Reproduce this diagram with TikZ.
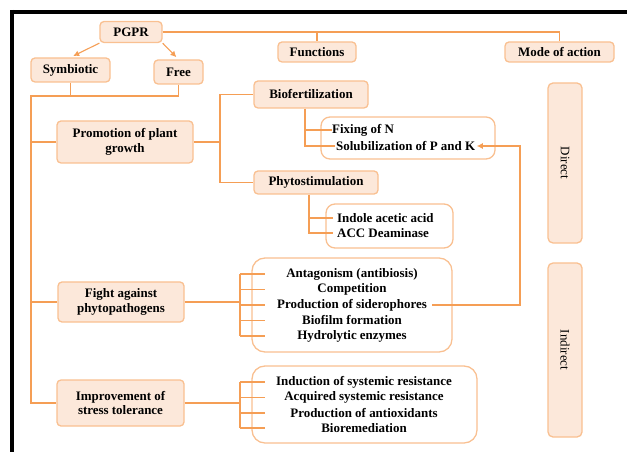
\documentclass[tikz,border=0pt]{standalone}
\usepackage{fontspec}
\setmainfont{Liberation Serif}
\usetikzlibrary{arrows.meta,calc}
\definecolor{lineor}{RGB}{245,158,85}
\definecolor{boxline}{RGB}{249,192,145}
\definecolor{boxfill}{RGB}{252,232,218}
\begin{document}
\begin{tikzpicture}[x=1bp,y=-1bp,
  every node/.style={font=\fontsize{13}{15}\selectfont\bfseries, inner sep=0pt},
  box/.style={draw=boxline, fill=boxfill, line width=1.3pt, rounded corners=4pt, align=center},
  listbox/.style={draw=boxline, fill=white, line width=1.3pt, rounded corners=13pt},
  sidebox/.style={draw=boxline, fill=boxfill, line width=1.3pt, rounded corners=5pt},
  conn/.style={draw=lineor, line width=1.1pt},
  arr/.style={conn, -{Latex[length=6pt,width=6pt]}},
  item/.style={align=center}
]
\useasboundingbox (0,0) rectangle (627,452);
% frame
\draw[line width=4bp] (10,12) -- (627,12);
\draw[line width=4bp] (12,10) -- (12,452);

% top boxes
\node[box, minimum width=62bp, minimum height=21bp] (pgpr) at (131,32) {PGPR};
\node[box, minimum width=79bp, minimum height=24bp] (sym) at (70.5,70) {Symbiotic};
\node[box, minimum width=49bp, minimum height=24bp] (free) at (178.5,72) {Free};
\node[box, minimum width=78bp, minimum height=20bp] (func) at (317,52) {Functions};
\node[box, minimum width=109bp, minimum height=20bp] (mode) at (559.5,52) {Mode of action};

% function boxes
\node[box, minimum width=136bp, minimum height=42bp] (prom) at (125,142) {Promotion of plant\\growth};
\node[box, minimum width=126bp, minimum height=40bp] (fight) at (121,302) {Fight against\\phytopathogens};
\node[box, minimum width=127bp, minimum height=46bp] (imp) at (120.5,403) {Improvement of\\stress tolerance};

\node[box, minimum width=114bp, minimum height=27bp] (bio) at (311,94.5) {Biofertilization};
\node[box, minimum width=124bp, minimum height=23bp] (phyto) at (316,182.5) {Phytostimulation};

% list boxes
\node[listbox, minimum width=174bp, minimum height=42bp, rounded corners=9pt] (fixbox) at (408,138) {};
\node[listbox, minimum width=127bp, minimum height=44bp, rounded corners=9pt] (indbox) at (389.5,226) {};
\node[listbox, minimum width=200bp, minimum height=94bp] (fightbox) at (352,305) {};
\node[listbox, minimum width=225bp, minimum height=77bp] (impbox) at (364.5,404.5) {};

% side boxes
\node[sidebox, minimum width=34bp, minimum height=160bp] (direct) at (565,163) {};
\node[rotate=-90, font=\fontsize{13}{15}\selectfont] (directt) at (direct.center) {Direct};
\node[sidebox, minimum width=34bp, minimum height=174bp] (indirect) at (565,350) {};
\node[rotate=-90, font=\fontsize{13}{15}\selectfont] (indirectt) at (indirect.center) {Indirect};

% list texts
\node[anchor=west] (fix) at (332,130) {Fixing of N};
\node[anchor=west, inner xsep=1.5pt] (sol) at (334.5,146) {Solubilization of P and K};
\node[anchor=west] (ind) at (337,218) {Indole acetic acid};
\node[anchor=west] (acc) at (337,233) {ACC Deaminase};

\node[item] (ant) at (352,274) {Antagonism (antibiosis)};
\node[item] (com) at (352,289.5) {Competition};
\node[item, inner xsep=5pt] (sid) at (352,305) {Production of siderophores};
\node[item] (bfm) at (352,320.5) {Biofilm formation};
\node[item] (hyd) at (352,336) {Hydrolytic enzymes};

\node[item] (isr) at (364,382) {Induction of systemic resistance};
\node[item] (asr) at (364,397.5) {Acquired systemic resistance};
\node[item] (pan) at (364,413) {Production of antioxidants};
\node[item] (brm) at (364,428) {Bioremediation};

% helper coordinates
\coordinate (bus) at (31,96);
\coordinate (j1) at (220,0);
\coordinate (b1) at (305,0);
\coordinate (p1) at (309,0);
\coordinate (f1) at (240,0);
\coordinate (fe) at (265,0);
\coordinate (rail) at (520,0);
\coordinate (ie) at (333,0);

% connectors
\draw[arr, shorten >=3pt] (pgpr.south west) -- (sym.north);
\draw[arr, shorten >=3pt] (pgpr.south east) -- (free.north);
\draw[conn] (pgpr.east) -| (mode.north);
\draw[conn] (pgpr.east -| func.north) -- (func.north);

\draw[conn] (sym.south) -- (sym.south |- bus);
\draw[conn] (free.south) |- (bus) |- (imp.west);
\draw[conn] (bus |- prom.west) -- (prom.west);
\draw[conn] (bus |- fight.west) -- (fight.west);

\draw[conn] (prom.east) -- (prom.east -| j1);
\draw[conn] (bio.west) -- (bio.west -| j1) -- (phyto.west -| j1) -- (phyto.west);

\draw[conn] (bio.south -| b1) |- (sol.west);
\draw[conn] (fix.west -| b1) -- (fix.west);
\draw[conn] (phyto.south -| p1) |- (ie |- acc.west);
\draw[conn] (ind.west -| p1) -- (ie |- ind.west);

\draw[conn] (fight.east) -- (fight.east -| f1);
\draw[conn] (f1 |- ant) -- (f1 |- hyd);
\foreach \n in {ant,com,sid,bfm,hyd} {\draw[conn] (f1 |- \n) -- (fe |- \n);}

\draw[conn] (imp.east) -- (imp.east -| f1);
\draw[conn] (f1 |- isr) -- (f1 |- brm);
\foreach \n in {isr,asr,pan,brm} {\draw[conn] (f1 |- \n) -- (fe |- \n);}

\draw[arr] (sid.east) -- (sid.east -| rail) |- (sol.east);
\end{tikzpicture}
\end{document}
